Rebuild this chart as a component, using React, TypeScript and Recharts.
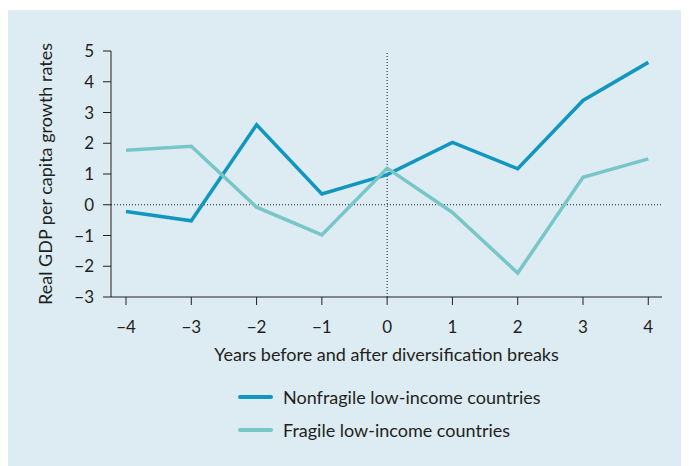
import React from "react"
import {
  LineChart,
  Line,
  XAxis,
  YAxis,
  ReferenceLine,
  Legend,
} from "recharts"

const years = [-4, -3, -2, -1, 0, 1, 2, 3, 4]
const nonfragile = [-0.22, -0.52, 2.6, 0.35, 0.98, 2.03, 1.17, 3.39, 4.63]
const fragile = [1.77, 1.9, -0.08, -0.98, 1.19, -0.25, -2.22, 0.89, 1.49]
const yTicks = [-3, -2, -1, 0, 1, 2, 3, 4, 5]

const DARK = "#1196bf"
const LIGHT = "#78c6c7"
const INK = "#231f20"
const FONT = "Lato, 'Open Sans', sans-serif"

const data = years.map((y, i) => ({
  year: y,
  nonfragile: nonfragile[i],
  fragile: fragile[i],
}))

const fmt = (v: number) => (v < 0 ? "\u2212" + Math.abs(v) : String(v))

function LegendBox({ payload }: { payload?: Array<{ value: string; color: string; dataKey?: string }> }) {
  if (!payload) return null
  // keep series order: nonfragile first
  const items = [...payload].sort((a, b) => (a.dataKey === "nonfragile" ? -1 : b.dataKey === "nonfragile" ? 1 : 0))
  return (
    <div style={{ fontFamily: FONT }}>
      {items.map(p => (
        <div key={p.value} style={{ display: "flex", alignItems: "center", height: 33 }}>
          <div style={{ width: 35, height: 4, borderRadius: 2, background: p.color, marginRight: 10 }} />
          <span style={{ fontSize: 18, color: INK }}>{p.value}</span>
        </div>
      ))}
    </div>
  )
}

export default function App() {
  return (
    <div style={{ marginTop: 2, width: 681, height: 456, background: "#ddecf3" }}>
      <LineChart
        width={681}
        height={456}
        data={data}
        margin={{ top: 41, right: 27, bottom: 109, left: 43 }}
      >
        <XAxis
          dataKey="year"
          type="number"
          domain={[-4.23, 4.21]}
          ticks={years}
          tickFormatter={fmt}
          tickSize={8}
          height={60}
          stroke={INK}
          tick={{ fill: INK, fontSize: 17, fontFamily: FONT }}
          tickMargin={16}
          label={{
            value: "Years before and after diversification breaks",
            position: "insideBottom",
            offset: -4,
            fill: INK,
            fontSize: 18,
            fontFamily: FONT,
          }}
        />
        <YAxis
          type="number"
          domain={[-3, 5]}
          ticks={yTicks}
          tickFormatter={fmt}
          tickSize={8}
          width={60}
          stroke={INK}
          tick={{ fill: INK, fontSize: 17, fontFamily: FONT }}
          tickMargin={9}
          label={{
            value: "Real GDP per capita growth rates",
            angle: -90,
            position: "insideLeft",
            offset: -5,
            style: { textAnchor: "middle" },
            fill: INK,
            fontSize: 18,
            fontFamily: FONT,
          }}
        />
        <ReferenceLine y={0} stroke={INK} strokeDasharray="1 2" />
        <ReferenceLine x={0} stroke={INK} strokeDasharray="1 2" />
        <Line
          dataKey="nonfragile"
          name="Nonfragile low-income countries"
          stroke={DARK}
          strokeWidth={3.5}
          dot={false}
          isAnimationActive={false}
        />
        <Line
          dataKey="fragile"
          name="Fragile low-income countries"
          stroke={LIGHT}
          strokeWidth={3.5}
          dot={false}
          isAnimationActive={false}
        />
        <Legend
          layout="vertical"
          align="center"
          verticalAlign="middle"
          wrapperStyle={{ top: 370, left: 230, width: 340 }}
          content={<LegendBox />}
        />
      </LineChart>
    </div>
  )
}
